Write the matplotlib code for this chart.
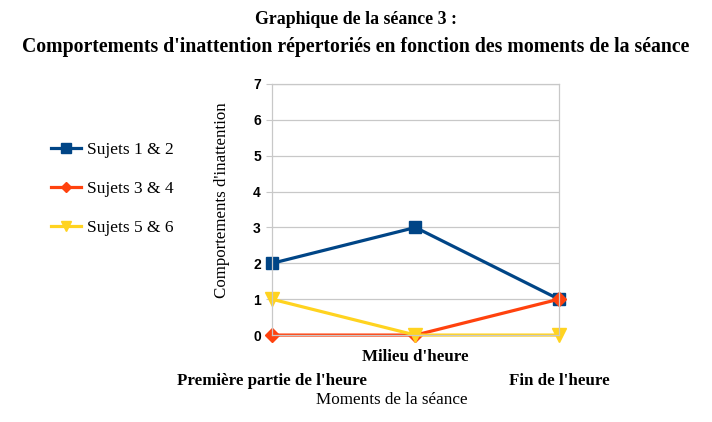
import matplotlib
matplotlib.use("Agg")
import matplotlib.pyplot as plt

# data
moments = ["Première partie de l'heure", "Milieu d'heure", "Fin de l'heure"]
sujets_12 = [2, 3, 1]
sujets_34 = [0, 0, 1]
sujets_56 = [1, 0, 0]
labels = ["Sujets 1 & 2", "Sujets 3 & 4", "Sujets 5 & 6"]
colors = ["#004586", "#ff420e", "#ffd320"]
markers = ["s", "D", "v"]
msizes = [9, 7, 10]

serif = "Liberation Serif"
sans = "Liberation Sans"

fig = plt.figure(figsize=(7.12, 4.22), dpi=100)
ax = fig.add_axes([0.382, 0.206, 0.403, 0.595])

x = list(range(len(moments)))
for vals, lab, c, m, ms in zip([sujets_12, sujets_34, sujets_56], labels, colors, markers, msizes):
    ax.plot(x, vals, color=c, marker=m, markersize=ms, linewidth=2.3, label=lab, clip_on=False)

ax.set_xlim(0, 2)
ax.set_ylim(0, 7)
ax.set_yticks(range(8))
ax.grid(axis="y", color="#c8c8c8", linewidth=0.9)
ax.set_axisbelow(True)
for s in ax.spines.values():
    s.set_color("#c8c8c8")
    s.set_linewidth(0.9)

ax.tick_params(axis="y", length=4, color="#c8c8c8", pad=4)
for t in ax.get_yticklabels():
    t.set_fontfamily(sans)
    t.set_fontweight("bold")
    t.set_fontsize(10)

# staggered category labels: middle one on minor tick, ends lower
ax.set_xticks([0, 2])
ax.set_xticklabels([moments[0], moments[2]], fontfamily=serif, fontweight="bold", fontsize=12.2)
ax.set_xticks([1], minor=True)
ax.set_xticklabels([moments[1]], minor=True, fontfamily=serif, fontweight="bold", fontsize=12.2)
ax.tick_params(axis="x", which="major", length=0, pad=27)
ax.tick_params(axis="x", which="minor", length=0, pad=10)

ax.set_xlabel("Moments de la séance", fontfamily=serif, fontsize=12.3)
ax.xaxis.set_label_coords(0.418, -0.226)
ax.set_ylabel("Comportements d'inattention", fontfamily=serif, fontsize=12.2)
ax.yaxis.set_label_coords(-0.146, 0.538)

fig.text(0.5, 1 - 20 / 422, "Graphique de la séance 3 :", ha="center", va="center",
         fontfamily=serif, fontweight="bold", fontsize=12.8)
fig.text(0.5, 1 - 47 / 422,
         "Comportements d'inattention répertoriés en fonction des moments de la séance",
         ha="center", va="center", fontfamily=serif, fontweight="bold", fontsize=14.2)

fig.legend(loc="center left", bbox_to_anchor=(0.062, 1 - 189 / 422), frameon=False,
           prop={"family": serif, "size": 12.5}, labelspacing=1.3, handlelength=1.75,
           handletextpad=0.3, borderaxespad=0, markerscale=0.75)

fig.savefig("out.png", dpi=100)
